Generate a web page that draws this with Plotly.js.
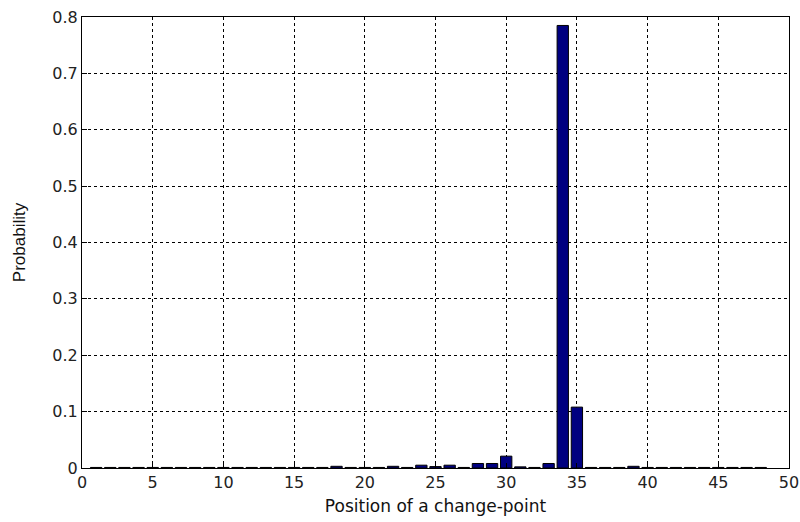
<!DOCTYPE html>
<html>
<head>
<meta charset="utf-8">
<script src="https://cdn.plot.ly/plotly-3.0.1.min.js"></script>
<style>html,body{margin:0;padding:0;background:#fff}#chart{width:800px;height:522px}</style>
</head>
<body>
<div id="chart"></div>
<script>
const positions = [1,2,3,4,5,6,7,8,9,10,11,12,13,14,15,16,17,18,19,20,21,22,23,24,25,26,27,28,29,30,31,32,33,34,35,36,37,38,39,40,41,42,43,44,45,46,47,48];
const probability = [0.001,0.001,0.001,0.001,0.001,0.001,0.001,0.001,0.001,0.001,0.001,0.001,0.001,0.001,0.001,0.001,0.001,0.003,0.001,0.001,0.001,0.003,0.001,0.005,0.0025,0.005,0.001,0.008,0.008,0.021,0.002,0.001,0.008,0.785,0.108,0.001,0.001,0.001,0.003,0.001,0.001,0.001,0.001,0.001,0.001,0.001,0.001,0.001];
const xTicks = [0,5,10,15,20,25,30,35,40,45,50];
const yTicks = [0,0.1,0.2,0.3,0.4,0.5,0.6,0.7,0.8];
const yTickText = ['0','0.1','0.2','0.3','0.4','0.5','0.6','0.7','0.8'];

const font = {family: 'DejaVu Sans, sans-serif', size: 16, color: '#222'};
const xTitleFont = {family: 'DejaVu Sans, sans-serif', size: 17, color: '#111'};
const yTitleFont = {family: 'Liberation Sans, Arial, sans-serif', size: 17, color: '#111'};
const data = [{
  type: 'bar', x: positions, y: probability, width: 0.8,
  marker: {color: '#000080', line: {color: '#000', width: 1}},
  hoverinfo: 'x+y'
}];
const axisCommon = {
  showline: true, mirror: true, linecolor: '#000', linewidth: 1,
  ticks: 'inside', ticklen: 5, tickcolor: '#000',
  showgrid: true, gridcolor: '#000', griddash: '3px,3px', gridwidth: 1,
  zeroline: false, tickfont: font
};
const layout = {
  width: 800, height: 522,
  margin: {l: 82, r: 11, t: 17, b: 54},
  paper_bgcolor: '#fff', plot_bgcolor: '#fff',
  showlegend: false, bargap: 0,
  font: font,
  xaxis: Object.assign({}, axisCommon, {
    range: [0, 50], tickvals: xTicks, ticktext: xTicks.map(String),
    title: {text: 'Position of a change-point', font: xTitleFont, standoff: 8}
  }),
  yaxis: Object.assign({}, axisCommon, {
    range: [0, 0.8], tickvals: yTicks, ticktext: yTickText,
    title: {text: 'Probability', font: yTitleFont, standoff: 22}
  })
};
Plotly.newPlot('chart', data, layout, {displayModeBar: false, staticPlot: true});
</script>
</body>
</html>
